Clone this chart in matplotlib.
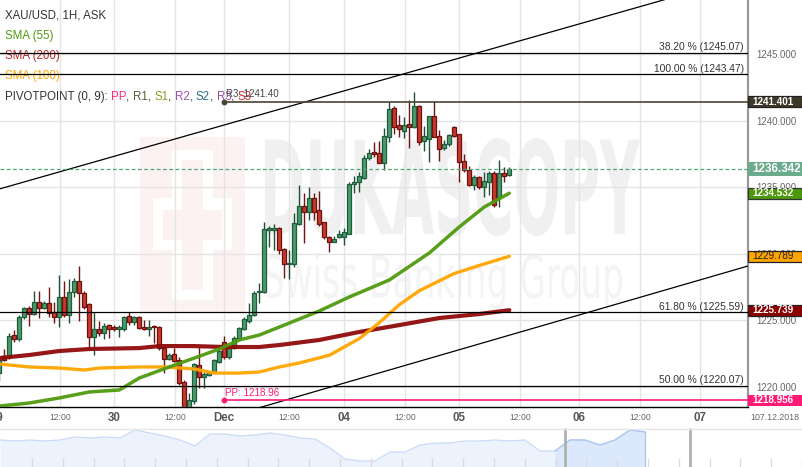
import matplotlib
matplotlib.use('Agg')
import numpy as np
import pylab as pl
from matplotlib.patches import Rectangle, PathPatch
from matplotlib.textpath import TextPath
from matplotlib.font_manager import FontProperties
from matplotlib.transforms import Affine2D, blended_transform_factory

pl.rcParams['font.family'] = ['Liberation Sans', 'DejaVu Sans']

W, H = 803, 467

# XAU/USD 1H candles, oldest first (29 Nov .. 05 Dec 2018)
opens = [1221.0, 1222.3, 1222.2, 1223.9, 1223.6, 1225.2, 1225.9, 1225.45, 1226.35, 1225.9,
         1226.3, 1225.6, 1225.2, 1226.7, 1225.35, 1227.1, 1227.9, 1227.05, 1226.2, 1223.7,
         1224.3, 1224.0, 1224.6, 1224.5, 1224.3, 1224.3, 1225.3, 1224.85, 1225.2, 1224.5,
         1224.3, 1224.55, 1224.5, 1222.9, 1222.1, 1222.45, 1222.0, 1220.35, 1217.9, 1218.9,
         1221.6, 1220.75, 1220.9, 1221.1, 1221.85, 1223.35, 1222.2, 1222.9, 1223.65, 1224.3,
         1224.9, 1225.4, 1227.1, 1227.1, 1231.75, 1231.8, 1231.95, 1230.35, 1229.2, 1229.2,
         1232.2, 1233.55, 1233.1, 1234.15, 1233.25, 1232.35, 1231.25, 1230.9, 1231.25, 1231.25,
         1231.5, 1235.2, 1235.4, 1235.7, 1237.2, 1237.6, 1237.55, 1236.8, 1238.75, 1240.95,
         1239.65, 1239.2, 1239.75, 1239.5, 1241.1, 1238.45, 1238.6, 1240.35, 1238.85, 1237.95,
         1238.25, 1239.5, 1239.0, 1236.95, 1236.3, 1235.15, 1235.75, 1235.0, 1235.4, 1236.05,
         1234.25, 1236.05, 1235.9]
highs = [1222.2, 1222.8, 1224.0, 1224.25, 1225.4, 1226.0, 1226.05, 1227.2, 1227.2, 1226.45,
         1227.5, 1226.35, 1228.4, 1227.9, 1228.1, 1228.15, 1229.05, 1227.2, 1226.3, 1225.6,
         1224.9, 1224.8, 1224.7, 1224.6, 1224.6, 1225.3, 1225.6, 1225.3, 1225.3, 1225.0,
         1225.0, 1224.6, 1224.55, 1223.0, 1222.55, 1222.9, 1222.2, 1220.5, 1219.5, 1221.75,
         1223.0, 1221.1, 1221.2, 1222.1, 1223.1, 1223.8, 1223.0, 1223.8, 1224.5, 1225.2,
         1226.3, 1227.2, 1227.8, 1232.4, 1232.1, 1232.25, 1232.0, 1230.4, 1230.3, 1233.05,
         1235.15, 1234.55, 1235.0, 1234.55, 1234.7, 1232.4, 1231.3, 1231.3, 1231.8, 1231.9,
         1235.4, 1235.8, 1236.1, 1237.4, 1237.85, 1238.4, 1238.45, 1239.4, 1241.4, 1241.1,
         1240.4, 1240.25, 1241.55, 1242.15, 1241.2, 1239.6, 1240.35, 1241.45, 1239.3, 1238.5,
         1239.0, 1239.6, 1239.0, 1237.5, 1236.55, 1235.9, 1235.8, 1236.15, 1236.2, 1236.2,
         1237.0, 1236.5, 1236.5]
lows = [1220.4, 1221.9, 1222.1, 1223.35, 1223.4, 1225.1, 1224.55, 1225.4, 1225.15, 1225.8,
        1225.2, 1224.8, 1224.5, 1225.2, 1224.8, 1226.7, 1224.9, 1225.8, 1222.9, 1222.4,
        1223.8, 1223.6, 1223.65, 1224.2, 1223.7, 1224.2, 1224.6, 1224.6, 1224.35, 1224.25,
        1223.8, 1223.3, 1222.75, 1221.0, 1222.0, 1221.85, 1220.1, 1217.2, 1217.6, 1218.7,
        1219.9, 1219.9, 1220.8, 1221.0, 1221.8, 1222.05, 1222.1, 1222.8, 1223.55, 1224.25,
        1224.8, 1225.3, 1226.3, 1227.0, 1230.5, 1230.25, 1230.0, 1228.15, 1228.1, 1229.0,
        1232.15, 1230.8, 1232.5, 1232.5, 1232.1, 1231.1, 1230.1, 1230.85, 1231.2, 1230.65,
        1231.45, 1234.55, 1234.65, 1235.6, 1237.0, 1237.25, 1236.8, 1236.3, 1238.4, 1239.0,
        1238.75, 1238.7, 1237.95, 1239.4, 1238.15, 1237.7, 1236.9, 1238.75, 1236.95, 1237.8,
        1238.1, 1238.75, 1235.4, 1236.1, 1235.05, 1234.8, 1234.85, 1234.25, 1234.4, 1233.5,
        1233.5, 1235.4, 1235.85]
closes = [1222.0, 1222.0, 1223.8, 1223.6, 1225.2, 1225.9, 1225.45, 1226.35, 1225.9, 1226.3,
          1225.5, 1225.2, 1226.7, 1225.35, 1227.1, 1227.9, 1227.0, 1226.0, 1223.7, 1224.3,
          1224.0, 1224.55, 1224.3, 1224.3, 1224.5, 1225.2, 1224.85, 1225.2, 1224.4, 1224.3,
          1224.5, 1224.45, 1222.9, 1222.1, 1222.4, 1221.9, 1220.3, 1217.9, 1219.0, 1221.7,
          1220.75, 1220.95, 1221.1, 1222.0, 1222.7, 1222.2, 1222.9, 1223.65, 1224.4, 1225.05,
          1225.35, 1227.0, 1227.2, 1231.85, 1231.95, 1231.95, 1230.25, 1229.2, 1229.3, 1232.3,
          1233.6, 1233.1, 1234.15, 1233.1, 1232.2, 1231.25, 1230.9, 1231.1, 1231.5, 1231.65,
          1235.2, 1235.4, 1235.8, 1237.2, 1237.55, 1237.45, 1236.8, 1238.8, 1240.85, 1239.5,
          1239.35, 1239.65, 1239.5, 1241.1, 1238.4, 1238.8, 1240.35, 1238.75, 1237.85, 1238.2,
          1238.9, 1238.85, 1236.9, 1236.3, 1235.15, 1235.75, 1235.0, 1235.45, 1236.05, 1233.65,
          1236.05, 1235.85, 1236.342]

# moving averages, sampled along the candle slots
sma55_slots = [0, 6, 12, 18, 24, 28, 34, 39, 44, 48, 52, 56, 64, 70, 78, 86, 92, 97, 102]
sma55 = [1218.53, 1218.76, 1219.14, 1219.59, 1219.74, 1220.64, 1221.47, 1222.14, 1222.82, 1223.50,
         1223.87, 1224.47, 1225.68, 1226.73, 1228.01, 1230.04, 1232.0, 1233.5, 1234.532]
sma200_slots = [0, 6, 12, 18, 28, 32, 39, 45, 52, 56, 64, 72, 80, 88, 96, 102]
sma200 = [1222.14, 1222.37, 1222.67, 1222.82, 1222.89, 1223.04, 1223.04, 1222.97, 1222.97, 1223.12,
          1223.50, 1224.10, 1224.62, 1225.15, 1225.45, 1225.739]
sma100_slots = [0, 6, 12, 17, 20, 28, 33, 39, 43, 48, 52, 56, 60, 66, 72, 76, 80, 84, 91, 96, 102]
sma100 = [1221.69, 1221.47, 1221.39, 1221.24, 1221.39, 1221.47, 1221.47, 1221.32, 1221.01, 1221.01,
          1221.09, 1221.47, 1221.77, 1222.35, 1223.60, 1224.80, 1226.15, 1227.20, 1228.50, 1229.10,
          1229.789]

last_price = 1236.342
pivot_pp = 1218.956
pivot_r3 = 1241.401

fib_labels = ['38.20 %', '100.00 %', '61.80 %', '50.00 %']
fib_prices = [1245.07, 1243.47, 1225.59, 1220.07]

# channel lines (slot, price)
upper_line = [(0, 1234.85), (140, 1249.83)]
lower_line = [(50, 1218.19), (149.74, 1229.06)]

x_labels = ['29', '12:00', '30', '12:00', 'Dec', '12:00', '04', '12:00', '05', '12:00', '06', '12:00', '07']
x_label_slots = [-0.5, 12.14, 22.94, 35.14, 44.94, 57.94, 68.94, 81.14, 91.94, 104.14, 115.94, 128.14, 140.14]

# overview strip (relative level)
nav_vals = [27, 26, 27, 26, 27, 30, 29, 30, 29, 37, 34, 31, 27, 21, 33, 33, 31, 32, 34, 32,
            29, 28, 19, 8, 6, 6, 15, 15, 22, 24, 24, 26, 26, 27, 26, 27, 16, 16, 27, 27,
            22, 27, 37, 35]

YMIN, YMAX = 1218.46, 1249.06
XMIN, XMAX = 0.14, 149.74


def fit_text(fig, s, box, color, weight, zorder=-5):
    # stretch a text path into a pixel box (left, top, right, bottom)
    tp = TextPath((0, 0), s, size=100, prop=FontProperties(family='DejaVu Sans', weight=weight))
    ext = tp.get_extents()
    x0, y0, x1, y1 = box
    tr = (Affine2D().translate(-ext.x0, -ext.y0)
          .scale((x1 - x0) / ext.width / W, (y1 - y0) / ext.height / H)
          .translate(x0 / W, 1 - y1 / H) + fig.transFigure)
    p = PathPatch(tp, transform=tr, fc=color, ec='none', zorder=zorder)
    fig.patches.append(p)


def px_rect(fig, x0, y0, x1, y1, color):
    r = Rectangle((x0 / W, 1 - y1 / H), (x1 - x0) / W, (y1 - y0) / H,
                  transform=fig.transFigure, fc=color, ec='none', zorder=-6)
    fig.patches.append(r)


fig = pl.figure(figsize=(W / 100, H / 100), dpi=100)
fig.patch.set_facecolor('white')

# watermark
pink = '#fdf2f2'
px_rect(fig, 140, 137, 245, 312, pink)
px_rect(fig, 172, 150, 213, 300, 'white')
px_rect(fig, 153, 198, 232, 250, 'white')
px_rect(fig, 182, 160, 203, 290, pink)
px_rect(fig, 163, 210, 222, 240, pink)
fit_text(fig, 'DUKASCOPY', (265, 138, 640, 236), '#f0f0f0', 'bold')
fit_text(fig, 'Swiss Banking Group', (265, 253, 622, 310), '#f4f4f4', 'normal')

ax = fig.add_axes([0, 1 - 407 / H, 748 / W, 407 / H])
ax.patch.set_visible(False)
ax.set_xlim(XMIN, XMAX)
ax.set_ylim(YMIN, YMAX)

# grid
ax.set_xticks([s for s in x_label_slots if s > 0])
ax.set_yticks([1220, 1225, 1230, 1235, 1240, 1245])
ax.grid(True, color='#e4e4e4', lw=1)
ax.set_axisbelow(True)
ax.tick_params(axis='x', length=0, labelbottom=False)
ax.yaxis.tick_right()
ax.tick_params(axis='y', length=0, pad=6, labelsize=6.9, labelcolor='#666666')
ax.yaxis.set_major_formatter(matplotlib.ticker.FormatStrFormatter('%.3f'))
for k in ('top', 'left'):
    ax.spines[k].set_visible(False)
ax.spines['right'].set_color('#9a9a9a')
ax.spines['right'].set_linewidth(1.6)
ax.spines['bottom'].set_color('black')
ax.spines['bottom'].set_linewidth(1.0)

# candles
o, hi, lo, c = map(np.array, (opens, highs, lows, closes))
slots = np.arange(len(o))
up = c >= o
body_lo = np.minimum(o, c)
body_h = np.maximum(np.abs(c - o), 0.08)
ax.vlines(slots[up], lo[up], hi[up], color='#1f5035', lw=1, zorder=3)
ax.vlines(slots[~up], lo[~up], hi[~up], color='#6e1414', lw=1, zorder=3)
ax.bar(slots[up], body_h[up], 0.72, body_lo[up], color='#4a9a6c', edgecolor='#1f5c3b', lw=0.9, zorder=3.1)
ax.bar(slots[~up], body_h[~up], 0.72, body_lo[~up], color='#c8392b', edgecolor='#6e1010', lw=0.9, zorder=3.1)

# moving averages
ax.plot(sma200_slots, sma200, color='#8f0a0a', lw=3.0, alpha=0.95, solid_capstyle='round', zorder=4)
ax.plot(sma100_slots, sma100, color='#ffa500', lw=2.4, alpha=0.95, solid_capstyle='round', zorder=4)
ax.plot(sma55_slots, sma55, color='#4f9a0e', lw=2.5, alpha=0.95, solid_capstyle='round', zorder=4)

# channel
for line in (upper_line, lower_line):
    xs, ys = zip(*line)
    ax.plot(xs, ys, color='black', lw=0.9, zorder=5)

# fibonacci levels
for lab, p in zip(fib_labels, fib_prices):
    ax.axhline(p, color='black', lw=0.9, zorder=5)
    ax.text(XMAX - 0.8, p + 0.05, '%s (%.2f)' % (lab, p), ha='right', va='bottom',
            fontsize=7.4, color='#333333', zorder=5)

# last price
ax.axhline(last_price, color='#4fa878', lw=0.9, dashes=(3, 2), zorder=5)

# pivot points
dec_slot = x_label_slots[4]
ax.plot([dec_slot, XMAX], [pivot_r3, pivot_r3], color='#4a4430', lw=1.2, zorder=5)
ax.plot([dec_slot], [pivot_r3], 'o', color='#4a4430', ms=3.2, zorder=5)
ax.text(dec_slot + 0.5, pivot_r3 + 0.25, 'R3: %.2f' % pivot_r3, fontsize=7, color='#444444', va='bottom', zorder=5)
ax.plot([dec_slot, XMAX], [pivot_pp, pivot_pp], color='#ff1a75', lw=1.2, zorder=5)
ax.plot([dec_slot], [pivot_pp], 'o', color='#ff1a75', ms=3.2, zorder=5)
ax.text(dec_slot + 0.3, pivot_pp + 0.15, 'PP: %.2f' % pivot_pp, fontsize=7.1, color='#ff1a75', va='bottom', zorder=5)

# x labels
xtr = blended_transform_factory(ax.transData, ax.transAxes)
for lab, s in zip(x_labels, x_label_slots):
    if ':' in lab:
        ax.text(s, -0.026, lab, transform=xtr, ha='center', va='center', fontsize=6.2,
                color='#666666', clip_on=False)
    else:
        ax.text(s, -0.026, lab, transform=xtr, ha='center', va='center', fontsize=8.3,
                fontweight='bold', color='#555555', clip_on=False)
ax.text(775 / 748, -0.026, '107.12.2018', transform=ax.transAxes, ha='center', va='center',
        fontsize=6.3, color='#666666', clip_on=False)

# price boxes on the right axis
ytr = blended_transform_factory(ax.transAxes, ax.transData)


def price_box(val, fc, tc, ec, hpx=11, fs=7.1, bold=True):
    dy = hpx * (YMAX - YMIN) / 407 / 2
    ax.add_patch(Rectangle((1.0, val - dy), 54 / 748, 2 * dy, transform=ytr, fc=fc, ec=ec,
                           lw=0.9, clip_on=False, zorder=6))
    ax.text(1.0 + 4 / 748, val, '%.3f' % val, transform=ytr, ha='left', va='center',
            fontsize=fs, color=tc, fontweight='bold' if bold else 'normal', clip_on=False, zorder=7)


price_box(pivot_r3, '#3d3a2a', 'white', '#222222')
price_box(last_price, '#6aab8c', 'white', 'none', hpx=14, fs=8.4)
price_box(sma55[-1], '#4c9a0a', 'white', '#333333')
price_box(sma100[-1], '#ffa500', '#222222', '#222222', bold=False)
price_box(sma200[-1], '#8b0000', 'white', '#222222')
price_box(pivot_pp, '#ff1a75', 'white', 'none')

# header / legend
ftr = fig.transFigure
fs = 8.3
ax.text(5 / W, 1 - 15 / H, 'XAU/USD, 1H, ASK', transform=ftr, fontsize=fs, color='#333333', va='center', zorder=1)
ax.text(5 / W, 1 - 36 / H, 'SMA (55)', transform=ftr, fontsize=fs, color='#4f9a0e', va='center', zorder=1)
ax.text(5 / W, 1 - 56.5 / H, 'SMA (200)', transform=ftr, fontsize=fs, color='#b52a2a', va='center', zorder=1)
ax.text(5 / W, 1 - 76.5 / H, 'SMA (100)', transform=ftr, fontsize=fs, color='#ffa500', va='center', zorder=1)
prev = ax.text(5 / W, 1 - 97 / H, 'PIVOTPOINT (0, 9): ', transform=ftr, fontsize=fs, color='#333333',
               va='center', zorder=1)
parts = [('PP', '#ff2a7f'), (', ', '#333333'), ('R1', '#5c5c3d'), (', ', '#333333'),
         ('S1', '#8c9c2a'), (', ', '#333333'), ('R2', '#a050b0'), (', ', '#333333'),
         ('S2', '#2f6b8a'), (', ', '#333333'), ('R3', '#9b4aa5'), (', ', '#333333'),
         ('S3', '#d0302f')]
for s, col in parts:
    prev = ax.annotate(s, xy=(1, 0), xycoords=prev, ha='left', va='bottom', fontsize=fs,
                       color=col, zorder=1, annotation_clip=False)

# overview strip
ax2 = fig.add_axes([0, 0, 1, 39 / H])
ax2.set_xlim(0, W)
ax2.set_ylim(0, 39)
ax2.axis('off')
nav_x = np.arange(len(nav_vals)) * 15
nav = np.array(nav_vals)
ax2.fill_between(nav_x, 0, nav, color='#edf3fd', lw=0)
ax2.plot(nav_x, nav, color='#c8dbf6', lw=0.9)
sel = nav_x >= 555
ax2.fill_between(nav_x[sel], 0, nav[sel], color='#dce8fb', lw=0)
ax2.plot(nav_x[sel], nav[sel], color='#a8c6f0', lw=0.9)
ax2.plot([nav_x[-1], nav_x[-1]], [0, nav[-1]], color='#a8c6f0', lw=0.9)
ax2.vlines(np.arange(32, W, 30.8), 0, 9, color='#dddddd', lw=1)
ax2.vlines([565, 690], 0, 39, color='#b0b0b0', lw=2)
ax2.axhline(38.5, color='#e6e6e6', lw=1)

fig.savefig('out.png', dpi=100)
